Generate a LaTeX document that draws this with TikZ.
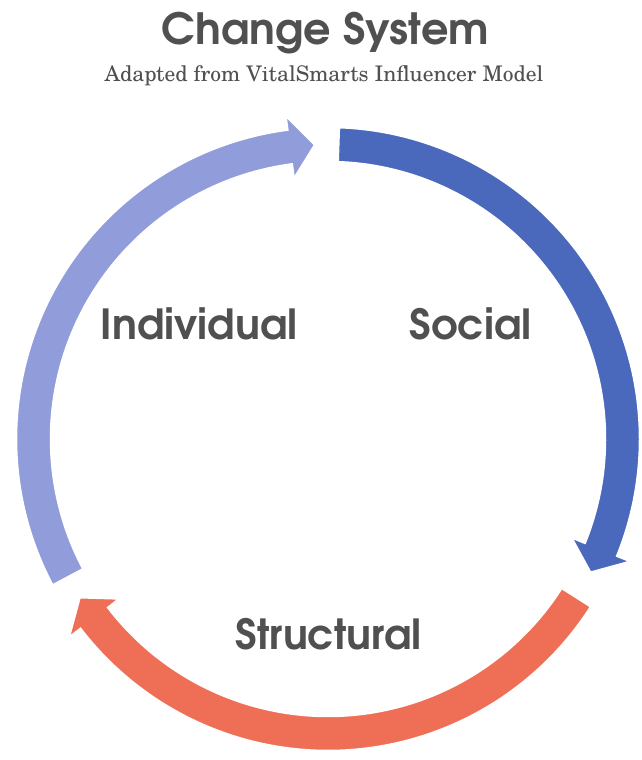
\documentclass[tikz,border=0pt]{standalone}
\usepackage{fontspec}
\usetikzlibrary{calc}
\newfontfamily\gothic{texgyreadventor-bold.otf}
\newfontfamily\schoolbook{texgyreschola-regular.otf}
\setmainfont{Liberation Serif}

\definecolor{txtgray}{HTML}{505050}
\definecolor{indivcol}{HTML}{919CDB}
\definecolor{socialcol}{HTML}{4A69BD}
\definecolor{structcol}{HTML}{EF6F56}

% ring geometry (pt)
\def\Rout{312pt}
\def\Rin{277pt}
\def\Rmid{294.5pt}
\def\Hout{327pt}
\def\Hin{262pt}

% curved arrow: #1 start angle, #2 tip angle (clockwise), #3 colour
\newcommand\ringarrow[3]{%
  \pgfmathsetmacro\headbase{#2+5}%
  \path[fill=black!50,opacity=.4,shift={(3.5pt,-5pt)}]
    ($(C)+(#1:\Rout)$) arc[start angle=#1,end angle=\headbase,radius=\Rout]
    -- ($(C)+(\headbase:\Hout)$) -- ($(C)+(#2:\Rmid)$) -- ($(C)+(\headbase:\Hin)$)
    -- ($(C)+(\headbase:\Rin)$) arc[start angle=\headbase,end angle=#1,radius=\Rin] -- cycle;
  \path[fill=#3,draw=white,line width=2.5pt,line join=miter]
    ($(C)+(#1:\Rout)$) arc[start angle=#1,end angle=\headbase,radius=\Rout]
    -- ($(C)+(\headbase:\Hout)$) -- ($(C)+(#2:\Rmid)$) -- ($(C)+(\headbase:\Hin)$)
    -- ($(C)+(\headbase:\Rin)$) arc[start angle=\headbase,end angle=#1,radius=\Rin] -- cycle;
}

\tikzset{
  label/.style={text=txtgray,font=\gothic\fontsize{41.5}{46}\selectfont,anchor=base,inner sep=0pt},
}

\begin{document}
\begin{tikzpicture}[x=1pt,y=1pt]
  \useasboundingbox[fill=white] (0,0) rectangle (641,760);
  \coordinate (C) at (328,321);

  \ringarrow{88}{-27}{socialcol}
  \ringarrow{-32.5}{-147.5}{structcol}
  \ringarrow{208}{92.5}{indivcol}

  \node[text=txtgray,font=\gothic\fontsize{43}{48}\selectfont,anchor=base,inner sep=0pt] (title) at (325.5,715) {Change System};
  \node[text=txtgray,font=\schoolbook\fontsize{21.5}{25}\selectfont,anchor=base,inner sep=0pt] (subtitle) at (324,678) {Adapted from VitalSmarts Influencer Model};

  \node[label] (individual) at (199,420) {Individual};
  \node[label] (social) at (470.5,420) {Social};
  \node[label] (structural) at (328.5,110) {Structural};
\end{tikzpicture}
\end{document}
